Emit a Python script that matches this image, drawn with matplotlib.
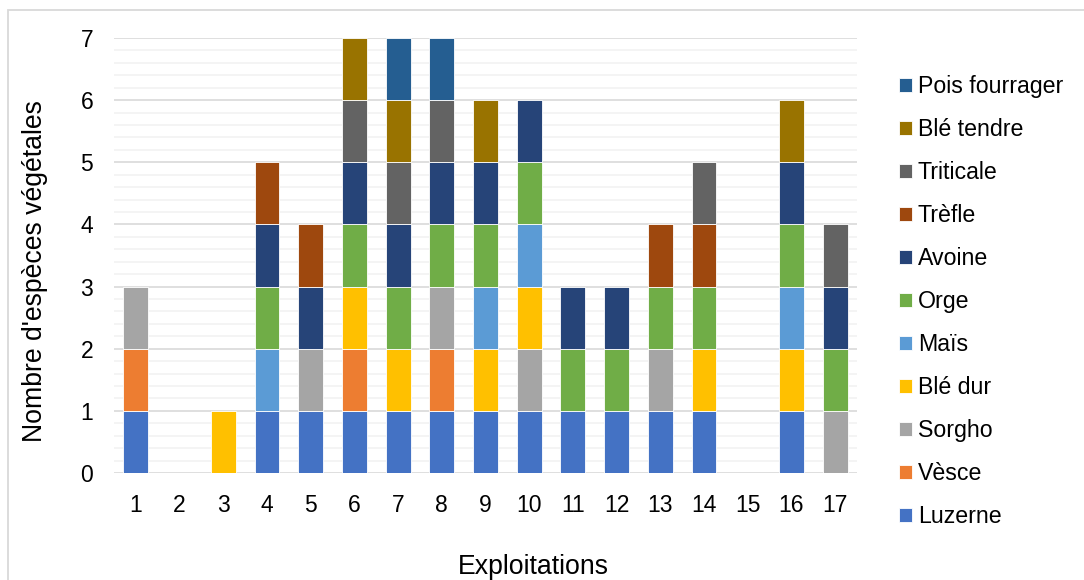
import matplotlib
matplotlib.use("Agg")
import matplotlib.pyplot as plt
from matplotlib.patches import Rectangle
import numpy as np

plt.rcParams["font.family"] = ["Liberation Sans", "DejaVu Sans"]

# Exploitations 1..17
exploitations = [str(i) for i in range(1, 18)]

# presence (1) / absence (0) of each species per exploitation
luzerne        = [1, 0, 0, 1, 1, 1, 1, 1, 1, 1, 1, 1, 1, 1, 0, 1, 0]
vesce          = [1, 0, 0, 0, 0, 1, 0, 1, 0, 0, 0, 0, 0, 0, 0, 0, 0]
sorgho         = [1, 0, 0, 0, 1, 0, 0, 1, 0, 1, 0, 0, 1, 0, 0, 0, 1]
ble_dur        = [0, 0, 1, 0, 0, 1, 1, 0, 1, 1, 0, 0, 0, 1, 0, 1, 0]
mais           = [0, 0, 0, 1, 0, 0, 0, 0, 1, 1, 0, 0, 0, 0, 0, 1, 0]
orge           = [0, 0, 0, 1, 0, 1, 1, 1, 1, 1, 1, 1, 1, 1, 0, 1, 1]
avoine         = [0, 0, 0, 1, 1, 1, 1, 1, 1, 1, 1, 1, 0, 0, 0, 1, 1]
trefle         = [0, 0, 0, 1, 1, 0, 0, 0, 0, 0, 0, 0, 1, 1, 0, 0, 0]
triticale      = [0, 0, 0, 0, 0, 1, 1, 1, 0, 0, 0, 0, 0, 1, 0, 0, 1]
ble_tendre     = [0, 0, 0, 0, 0, 1, 1, 0, 1, 0, 0, 0, 0, 0, 0, 1, 0]
pois_fourrager = [0, 0, 0, 0, 0, 0, 1, 1, 0, 0, 0, 0, 0, 0, 0, 0, 0]

species = ["Luzerne", "Vèsce", "Sorgho", "Blé dur", "Maïs", "Orge",
           "Avoine", "Trèfle", "Triticale", "Blé tendre", "Pois fourrager"]
series = [luzerne, vesce, sorgho, ble_dur, mais, orge,
          avoine, trefle, triticale, ble_tendre, pois_fourrager]
colors = ["#4472C4", "#ED7D31", "#A5A5A5", "#FFC000", "#5B9BD5", "#70AD47",
          "#264478", "#9E480E", "#636363", "#997300", "#255E91"]

W, H, DPI = 1084, 580, 100
fig = plt.figure(figsize=(W / DPI, H / DPI), dpi=DPI)
ax = fig.add_axes([114 / W, 1 - 473 / H, (857 - 114) / W, (473 - 38) / H])

# light frame around the chart area
fig.patches.append(Rectangle((7.5 / W, -0.5), 2, 1.5 - 9.5 / H,
                             transform=fig.transFigure, fill=False,
                             edgecolor="#D9D9D9", linewidth=1.3))

x = np.arange(len(exploitations))
bottom = np.zeros(len(exploitations))
handles = []
for name, vals, col in zip(species, series, colors):
    vals = np.array(vals, dtype=float)
    keep = vals > 0
    h = ax.bar(x[keep], vals[keep], bottom=bottom[keep], width=0.57,
               color=col, edgecolor="white", linewidth=0.6, label=name, zorder=3)
    handles.append(h)
    bottom += vals

ax.set_xlim(-0.5, len(exploitations) - 0.5)
ax.set_ylim(0, 7)
ax.set_xticks(x)
ax.set_xticklabels(exploitations)
ax.set_yticks(range(0, 8))
ax.set_yticks(np.arange(0, 7.01, 0.2), minor=True)
ax.grid(axis="y", which="major", color="#D9D9D9", linewidth=1.2, zorder=0)
ax.grid(axis="y", which="minor", color="#F2F2F2", linewidth=1.2, zorder=0)
ax.set_axisbelow(True)
for s in ax.spines.values():
    s.set_visible(False)
ax.tick_params(axis="both", which="both", length=0, labelsize=16.5,
               colors="black", pad=15)

fig.text(35 / W, 1 - 271 / H, "Nombre d'espèces végétales", rotation=90,
         ha="center", va="center", fontsize=19.2)
fig.text(533 / W, 1 - 567 / H, "Exploitations", ha="center", va="center",
         fontsize=19.2)

leg = fig.legend(handles[::-1], species[::-1], loc="upper left",
                 bbox_to_anchor=(890 / W, 1 - 66 / H), frameon=False,
                 fontsize=16.7, handlelength=0.55, handleheight=0.55,
                 handletextpad=0.25, labelspacing=0.86, borderaxespad=0)

fig.savefig("out.png", dpi=DPI)
